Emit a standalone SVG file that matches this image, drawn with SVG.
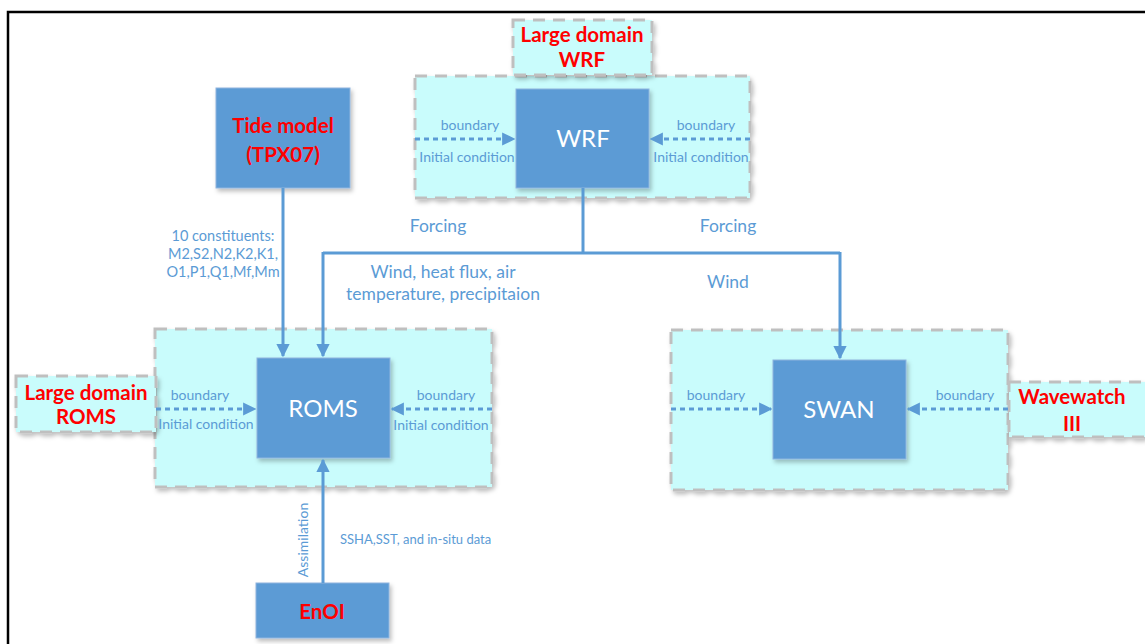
<svg xmlns="http://www.w3.org/2000/svg" width="1145" height="644" viewBox="0 0 1145 644">
<defs>
<filter id="sh" x="-10%" y="-10%" width="130%" height="130%">
<feDropShadow dx="2" dy="3" stdDeviation="2" flood-color="#000" flood-opacity="0.25"/>
</filter>
<marker id="ah" viewBox="0 0 10 10" refX="9" refY="5" markerWidth="4.4" markerHeight="4.4" markerUnits="strokeWidth" orient="auto">
<path d="M0,0 L10,5 L0,10 z" fill="#5B9BD5"/>
</marker>
</defs>
<style>
.cont{fill:#C9FCFC;stroke:#BFBFBF;stroke-width:3;stroke-dasharray:12,8;}
.node{fill:#5B9BD5;stroke:#8FB4DE;stroke-width:1;}
.lbl{fill:#C9FCFC;stroke:#BFBFBF;stroke-width:3;stroke-dasharray:12,8;}
.line{fill:none;stroke:#5B9BD5;stroke-width:3;}
.dash{fill:none;stroke:#5B9BD5;stroke-width:3;stroke-dasharray:5,4;}
text{font-family:Lato,"Open Sans","Liberation Sans",sans-serif;}
.w{fill:#fff;font-size:24px;text-anchor:middle;}
.r{fill:#FF0000;font-size:20.5px;font-weight:bold;text-anchor:middle;}
.b{fill:#5B9BD5;font-size:14px;text-anchor:middle;}
.f{fill:#5B9BD5;font-size:17.5px;text-anchor:middle;}
.c{fill:#5B9BD5;font-size:14.5px;text-anchor:middle;}
.s{fill:#5B9BD5;font-size:13px;}
</style>
<rect x="0" y="0" width="1145" height="644" fill="#fff"/>
<path d="M8,644 V12 H1145" fill="none" stroke="#000" stroke-width="2.5"/>

<g id="wrf-domain">
<rect class="cont" x="415" y="76" width="335" height="122" filter="url(#sh)"/>
</g>
<g id="large-wrf">
<rect class="lbl" x="513" y="20" width="139" height="55" filter="url(#sh)"/>
<text class="r" x="582" y="42">Large domain</text>
<text class="r" x="582" y="67">WRF</text>
</g>
<g id="roms-domain">
<rect class="cont" x="155" y="329" width="337" height="158" filter="url(#sh)"/>
</g>
<g id="large-roms">
<rect class="lbl" x="16" y="376" width="140" height="56" filter="url(#sh)"/>
<text class="r" x="86" y="400">Large domain</text>
<text class="r" x="86" y="424">ROMS</text>
</g>
<g id="swan-domain">
<rect class="cont" x="671" y="330" width="337" height="160" filter="url(#sh)"/>
</g>
<g id="wavewatch">
<rect class="lbl" x="1009" y="382" width="150" height="55" filter="url(#sh)"/>
<text class="r" x="1072" y="404">Wavewatch</text>
<text class="r" x="1072" y="431">III</text>
</g>

<g id="tide">
<rect class="node" x="216" y="88" width="134" height="100" filter="url(#sh)"/>
<text class="r" x="283" y="133">Tide model</text>
<text class="r" x="283" y="162">(TPX07)</text>
</g>
<g id="wrf">
<rect class="node" x="516" y="89" width="133" height="99" filter="url(#sh)"/>
<text class="w" x="583" y="147">WRF</text>
</g>
<g id="roms">
<rect class="node" x="257" y="358" width="133" height="100" filter="url(#sh)"/>
<text class="w" x="323" y="417">ROMS</text>
</g>
<g id="swan">
<rect class="node" x="773" y="360" width="133" height="99" filter="url(#sh)"/>
<text class="w" x="839" y="418">SWAN</text>
</g>
<g id="enoi">
<rect class="node" x="256" y="583" width="133" height="55" filter="url(#sh)"/>
<text class="r" x="322" y="619">EnOI</text>
</g>

<g id="connectors">
<path class="dash" d="M415,139 H514" marker-end="url(#ah)"/>
<path class="dash" d="M750,139 H651" marker-end="url(#ah)"/>
<path class="dash" d="M156,409 H255" marker-end="url(#ah)"/>
<path class="dash" d="M492,409 H392" marker-end="url(#ah)"/>
<path class="dash" d="M671,409 H771" marker-end="url(#ah)"/>
<path class="dash" d="M1008,409 H908" marker-end="url(#ah)"/>
<path class="line" d="M283,188 V356" marker-end="url(#ah)"/>
<path class="line" d="M583,188 V253"/>
<path class="line" d="M323,253 H840"/>
<path class="line" d="M323,252 V356" marker-end="url(#ah)"/>
<path class="line" d="M840,252 V358" marker-end="url(#ah)"/>
<path class="line" d="M323,583 V460" marker-end="url(#ah)"/>
</g>

<g id="labels">
<text class="b" x="470" y="130">boundary</text>
<text class="b" x="467" y="162">Initial condition</text>
<text class="b" x="706" y="130">boundary</text>
<text class="b" x="701" y="162">Initial condition</text>
<text class="b" x="200" y="400">boundary</text>
<text class="b" x="206" y="429">Initial condition</text>
<text class="b" x="446" y="400">boundary</text>
<text class="b" x="441" y="430">Initial condition</text>
<text class="b" x="716" y="400">boundary</text>
<text class="b" x="965" y="400">boundary</text>
<text class="f" x="438" y="232">Forcing</text>
<text class="f" x="728" y="232">Forcing</text>
<text class="f" x="443" y="278">Wind, heat flux, air</text>
<text class="f" x="443" y="300">temperature, precipitaion</text>
<text class="f" x="728" y="288">Wind</text>
<text class="c" x="223" y="241">10 constituents:</text>
<text class="c" x="223" y="259">M2,S2,N2,K2,K1,</text>
<text class="c" x="223" y="277">O1,P1,Q1,Mf,Mm</text>
<text class="s" x="340" y="544">SSHA,SST, and in-situ data</text>
<text class="b" transform="translate(308,540) rotate(-90)">Assimilation</text>
</g>
</svg>
